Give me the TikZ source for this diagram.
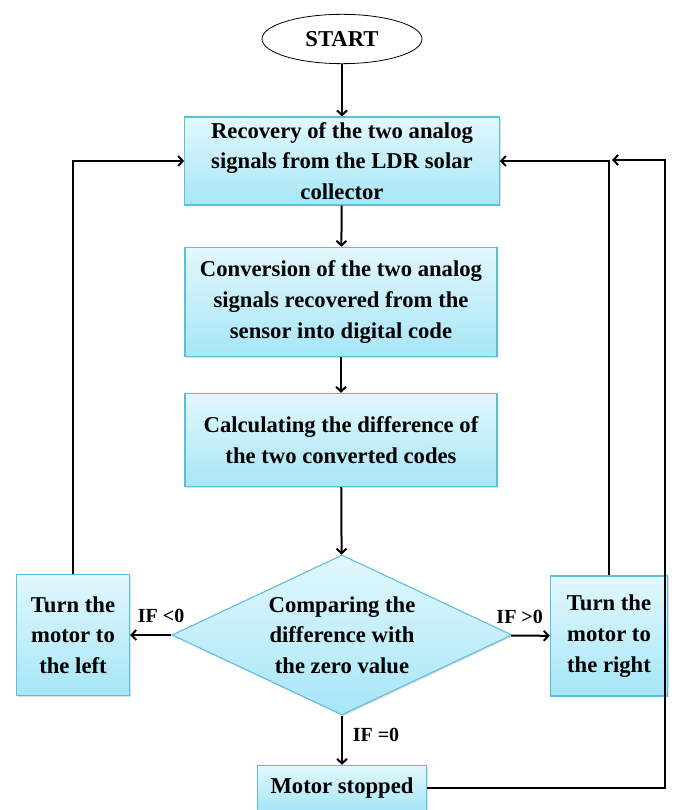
\documentclass[tikz,border=0pt]{standalone}
\usepackage{fontspec}
\setmainfont{Liberation Serif}
\usetikzlibrary{shapes.geometric,arrows.meta,shadows}
\definecolor{boxtop}{RGB}{226,248,253}
\definecolor{boxbot}{RGB}{166,230,247}
\definecolor{boxline}{RGB}{90,190,220}
\tikzset{
	stepbox/.style={draw=boxline,line width=0.8pt,top color=boxtop,bottom color=boxbot,
		align=center,font=\bfseries\fontsize{17}{23}\selectfont,inner sep=0pt,
		drop shadow={opacity=0.25,shadow xshift=1pt,shadow yshift=-1pt}},
	flow/.style={-{Straight Barb[length=3.5pt,width=7.5pt]},line width=1.5pt},
	lbl/.style={font=\bfseries\fontsize{15}{17}\selectfont}
}
\begin{document}
\begin{tikzpicture}[x=0.75pt,y=-0.75pt]
	\useasboundingbox (0,0) rectangle (683,810);
	\node[draw,ellipse,line width=0.6pt,minimum width=120pt,minimum height=37pt,inner sep=0pt,
		font=\bfseries\fontsize{17}{20}\selectfont] (S) at (342,39) {START};
	\node[stepbox,minimum width=236pt,minimum height=66pt] (A) at (342,161) {Recovery of the two analog\\signals from the LDR solar\\collector};
	\node[stepbox,minimum width=234pt,minimum height=82pt] (B) at (341,302) {Conversion of the two analog\\signals recovered from the\\sensor into digital code};
	\node[stepbox,minimum width=234pt,minimum height=70pt] (C) at (341,440) {Calculating the difference of\\the two converted codes};
	\node[stepbox,diamond,aspect=2.125,minimum width=255pt,minimum height=120pt] (D) at (342,635) {Comparing the\\difference with\\the zero value};
	\node[stepbox,minimum width=85pt,minimum height=91pt] (L) at (73,635) {Turn the\\motor to\\the left};
	\node[stepbox,minimum width=88pt,minimum height=90pt] (R) at (609,636) {Turn the\\motor to\\the right};
	\node[stepbox,minimum width=127pt,minimum height=34pt] (M) at (342,788) {Motor stopped};
	\coordinate (RL) at (665,160);

	\draw[flow] (S) -- (A);
	\draw[flow] (A) -- (B);
	\draw[flow] (B) -- (C);
	\draw[flow] (C) -- (D);
	\draw[flow] (D) -- node[lbl,above=5pt,pos=0.25] {IF <0} (L);
	\draw[flow] (D) -- node[lbl,above=5pt,pos=0.22] {IF >0} (R);
	\draw[flow] (D) -- node[lbl,right=4pt,pos=0.4] {IF =0} (M);
	\draw[flow] (L.north) |- (A.west);
	\draw[flow] (R.north) |- (A.east);
	\draw[flow] (M.east) -| (RL) -- (612,160);
\end{tikzpicture}
\end{document}
